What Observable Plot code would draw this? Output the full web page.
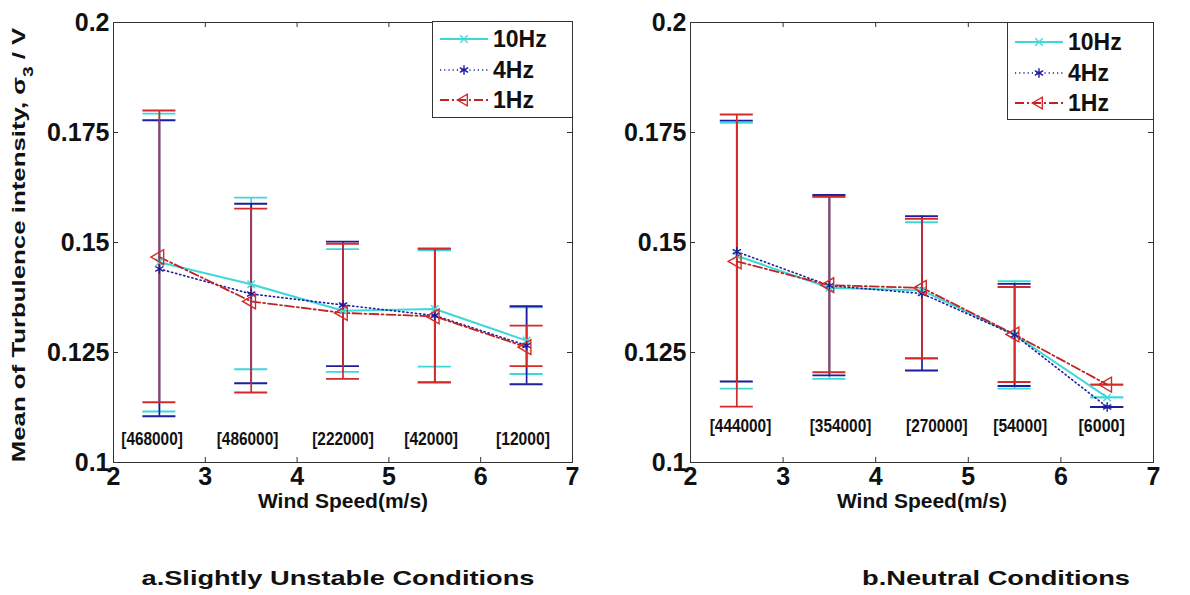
<!DOCTYPE html>
<html><head><meta charset="utf-8">
<script src="https://cdn.jsdelivr.net/npm/d3@7"></script>
<script src="https://cdn.jsdelivr.net/npm/@observablehq/plot@0.6"></script>
<style>
body{margin:0;background:#fff;}
#wrap{position:relative;width:1190px;height:595px;overflow:hidden;background:#fff;}
#wrap > svg{position:absolute;}
</style></head><body><div id="wrap"></div>
<script>
// ---------- data ----------
const speeds = [2.5, 3.5, 4.5, 5.5, 6.5];
const seriesNames = ["10Hz", "4Hz", "1Hz"];
const xTicks = [2, 3, 4, 5, 6, 7];
const yTicks = [0.1, 0.125, 0.15, 0.175, 0.2];

// Panel a: slightly unstable
const a_mean10 = [0.1455, 0.1405, 0.1345, 0.1349, 0.1277];
const a_lo10   = [0.1116, 0.1212, 0.1206, 0.1218, 0.1201];
const a_hi10   = [0.1793, 0.1602, 0.1485, 0.1482, 0.1353];
const a_mean4  = [0.1440, 0.1383, 0.1358, 0.1334, 0.1266];
const a_lo4    = [0.1105, 0.1180, 0.1219, 0.1182, 0.1178];
const a_hi4    = [0.1778, 0.1588, 0.1502, 0.1486, 0.1355];
const a_mean1  = [0.1467, 0.1366, 0.1340, 0.1332, 0.1262];
const a_lo1    = [0.1137, 0.1159, 0.1190, 0.1182, 0.1219];
const a_hi1    = [0.1800, 0.1577, 0.1497, 0.1486, 0.1311];
const a_counts = ["[468000]", "[486000]", "[222000]", "[42000]", "[12000]"];
const a_countX = [2.42, 3.46, 4.50, 5.46, 6.46];

// Panel b: neutral
const b_mean10 = [0.1470, 0.1397, 0.1391, 0.1290, 0.1148];
const b_lo10   = [0.1168, 0.1190, 0.1236, 0.1168, 0.1148];
const b_hi10   = [0.1772, 0.1604, 0.1546, 0.1412, 0.1148];
const b_mean4  = [0.1479, 0.1402, 0.1384, 0.1290, 0.1126];
const b_lo4    = [0.1184, 0.1198, 0.1209, 0.1174, 0.1126];
const b_hi4    = [0.1777, 0.1608, 0.1560, 0.1406, 0.1126];
const b_mean1  = [0.1457, 0.1403, 0.1397, 0.1291, 0.1177];
const b_lo1    = [0.1127, 0.1205, 0.1237, 0.1183, 0.1177];
const b_hi1    = [0.1791, 0.1604, 0.1554, 0.1399, 0.1177];
const b_counts = ["[444000]", "[354000]", "[270000]", "[54000]", "[6000]"];
const b_countX = [2.54, 3.62, 4.66, 5.56, 6.44];

const xLabel = "Wind Speed(m/s)";
const titleA = "a.Slightly Unstable Conditions";
const titleB = "b.Neutral Conditions";

// ---------- styles ----------
const CYAN = "#3fd8d8", NAVY = "#1d1d9e", RED = "#d42a2a", DRED = "#bf2323";
const FONT = "'Liberation Sans', Arial, sans-serif";
const styles = {
  "10Hz": {err: CYAN, line: CYAN, dash: null, width: 2, symbol: "times", r: 3.5, rot: 0},
  "4Hz":  {err: NAVY, line: NAVY, dash: "1.2,3", width: 1.6, symbol: "asterisk", r: 4.5, rot: 0},
  "1Hz":  {err: RED,  line: DRED, dash: "9,3,2,3", width: 1.8, symbol: "triangle", r: 5.5, rot: -90}
};

const W = 595, H = 520, MT = 22, MB = 58;

function buildRows(means, los, his) {
  return seriesNames.map((s, k) => speeds.map((x, i) => ({series: s, x, mean: means[k][i], lo: los[k][i], hi: his[k][i]})));
}

function panel({rows, counts, countX, countY, marginLeft, marginRight}) {
  const plotW = W - marginLeft - marginRight, plotH = H - MT - MB;
  const marks = [];
  // inward ticks on all four sides
  marks.push(Plot.tickY(yTicks, {y: d => d, insetRight: plotW - 5, stroke: "#333"}));
  marks.push(Plot.tickY(yTicks, {y: d => d, insetLeft: plotW - 5, stroke: "#333"}));
  marks.push(Plot.tickX(xTicks, {x: d => d, insetTop: plotH - 5, stroke: "#333"}));
  marks.push(Plot.tickX(xTicks, {x: d => d, insetBottom: plotH - 5, stroke: "#333"}));
  // error bars
  rows.forEach(r => {
    const st = styles[r[0].series];
    marks.push(Plot.ruleX(r, {x: "x", y1: "lo", y2: "hi", stroke: st.err, strokeWidth: 1.7}));
    marks.push(Plot.ruleY(r, {y: "lo", x1: "x", x2: "x", insetLeft: -16.5, insetRight: -16.5, stroke: st.err, strokeWidth: 1.9}));
    marks.push(Plot.ruleY(r, {y: "hi", x1: "x", x2: "x", insetLeft: -16.5, insetRight: -16.5, stroke: st.err, strokeWidth: 1.9}));
  });
  // lines
  rows.forEach(r => {
    const st = styles[r[0].series];
    marks.push(Plot.line(r, {x: "x", y: "mean", stroke: st.line, strokeWidth: st.width, strokeDasharray: st.dash}));
  });
  // markers
  rows.forEach(r => {
    const st = styles[r[0].series];
    marks.push(Plot.dot(r, {x: "x", y: "mean", symbol: st.symbol, r: st.r, rotate: st.rot, stroke: st.err, strokeWidth: 1.4, fill: "none"}));
  });
  // sample counts
  marks.push(Plot.text(counts, {x: (d, i) => countX[i], y: () => countY, text: d => d, fontSize: 19, fontWeight: "bold", fill: "#111", className: "cnt"}));
  marks.push(Plot.frame({stroke: "#333", strokeWidth: 1}));
  marks.push(Plot.axisX(xTicks, {tickSize: 0, tickPadding: 5, tickFormat: d => String(d), label: null, fontSize: 25, fontWeight: "bold"}));
  marks.push(Plot.axisY(yTicks, {tickSize: 0, tickPadding: 4, tickFormat: d => String(d), label: null, fontSize: 25, fontWeight: "bold"}));
  marks.push(Plot.text([xLabel], {frameAnchor: "bottom", dy: 45, text: d => d, fontSize: 21, fontWeight: "bold"}));
  const svg = Plot.plot({
    width: W, height: H,
    marginLeft, marginRight, marginTop: MT, marginBottom: MB,
    x: {domain: [2, 7], type: "linear"},
    y: {domain: [0.1, 0.2], type: "linear"},
    style: {fontFamily: FONT, fontSize: "25px", fontWeight: "bold", color: "#111", background: "transparent", overflow: "visible"},
    marks
  });
  // narrow the sample-count labels to the reference's condensed look
  d3.select(svg).selectAll("g.cnt text").each(function () {
    const n = this.textContent.length;
    d3.select(this).attr("textLength", n * 7.7).attr("lengthAdjust", "spacingAndGlyphs");
  });
  return svg;
}

const wrap = document.getElementById("wrap");
const svgA = panel({
  rows: buildRows([a_mean10, a_mean4, a_mean1], [a_lo10, a_lo4, a_lo1], [a_hi10, a_hi4, a_hi1]),
  counts: a_counts, countX: a_countX, countY: 0.1053, marginLeft: 113, marginRight: 23
});
svgA.style.left = "0px"; svgA.style.top = "0px";
wrap.appendChild(svgA);
const svgB = panel({
  rows: buildRows([b_mean10, b_mean4, b_mean1], [b_lo10, b_lo4, b_lo1], [b_hi10, b_hi4, b_hi1]),
  counts: b_counts, countX: b_countX, countY: 0.1083, marginLeft: 95, marginRight: 37
});
svgB.style.left = "595px"; svgB.style.top = "0px";
wrap.appendChild(svgB);

// ---------- y label, legends and panel titles ----------
const ov = d3.select(wrap).append("svg").attr("width", 1190).attr("height", 595)
  .style("left", "0px").style("top", "0px").style("pointer-events", "none")
  .attr("font-family", FONT).attr("font-weight", "bold");

const yl = ov.append("text").attr("transform", "translate(18,245) rotate(-90) scale(1.36,1)")
  .attr("text-anchor", "middle").attr("dy", "0.36em").attr("font-size", 19).attr("fill", "#111");
yl.append("tspan").text("Mean of Turbulence intensity, σ");
yl.append("tspan").attr("baseline-shift", "sub").attr("font-size", 14).text("3");
yl.append("tspan").text(" / V");

function legend(x0, y0, w, h, rowsY) {
  const g = ov.append("g");
  g.append("rect").attr("x", x0 + 0.5).attr("y", y0 + 0.5).attr("width", w).attr("height", h)
    .attr("fill", "#fff").attr("stroke", "#333").attr("stroke-width", 1);
  seriesNames.forEach((s, k) => {
    const st = styles[s], y = y0 + rowsY[k];
    g.append("line").attr("x1", x0 + 8).attr("x2", x0 + 56).attr("y1", y).attr("y2", y)
      .attr("stroke", st.line).attr("stroke-width", st.width).attr("stroke-dasharray", st.dash);
    const sym = {times: d3.symbolTimes, asterisk: d3.symbolAsterisk, triangle: d3.symbolTriangle2}[st.symbol];
    g.append("path").attr("d", d3.symbol(sym, Math.PI * st.r * st.r)())
      .attr("transform", `translate(${x0 + 32},${y}) rotate(${st.rot})`)
      .attr("fill", "none").attr("stroke", st.err).attr("stroke-width", 1.4);
    g.append("text").attr("x", x0 + 61).attr("y", y).attr("dy", "0.36em")
      .attr("font-size", 23).attr("fill", "#111").text(s);
  });
}
legend(432, 21, 140, 96, [18, 49, 79]);
legend(1007, 22, 146, 97, [20, 51, 81]);

ov.append("text").attr("x", 338).attr("y", 577).attr("dy", "0.36em").attr("text-anchor", "middle")
  .attr("font-size", 21).attr("fill", "#111").attr("textLength", 393).attr("lengthAdjust", "spacingAndGlyphs").text(titleA);
ov.append("text").attr("x", 996).attr("y", 577).attr("dy", "0.36em").attr("text-anchor", "middle")
  .attr("font-size", 21).attr("fill", "#111").attr("textLength", 268).attr("lengthAdjust", "spacingAndGlyphs").text(titleB);
</script>
</body></html>
